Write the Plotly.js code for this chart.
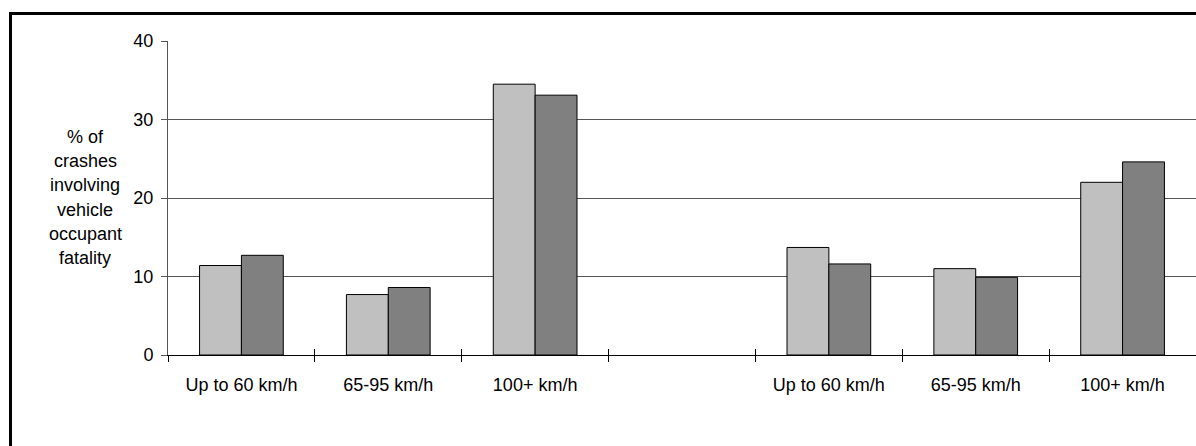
<!DOCTYPE html>
<html>
<head>
<meta charset="utf-8">
<script src="https://cdn.plot.ly/plotly-3.0.1.min.js"></script>
<style>
html, body { margin: 0; padding: 0; overflow: hidden; background: #fff; }
</style>
</head>
<body>
<div id="chart"></div>
<script>
const categories = ["Up to 60 km/h", "65-95 km/h", "100+ km/h", "", "Up to 60 km/h", "65-95 km/h", "100+ km/h"];
const seriesLight = [11.4, 7.7, 34.5, null, 13.7, 11.0, 22.0];
const seriesDark  = [12.7, 8.6, 33.1, null, 11.6, 9.9, 24.6];
const yTickVals = [0, 10, 20, 30, 40];
const yTitleLines = ["% of", "crashes", "involving", "vehicle", "occupant", "fatality"];

const idx = categories.map((_, i) => i);
const bounds = categories.concat([""]).map((_, i) => i - 0.5);
const FONT = "Arial, 'Liberation Sans', sans-serif";

const W = 1196, H = 446, ML = 168, MR = 0, MT = 41, MB = 91;
const plotH = H - MT - MB, plotW = W - ML - MR;

const traces = [
  { type: "bar", x: idx, y: seriesLight, name: "A",
    marker: { color: "#C0C0C0", line: { color: "#000", width: 1 } }, hoverinfo: "skip" },
  { type: "bar", x: idx, y: seriesDark, name: "B",
    marker: { color: "#808080", line: { color: "#000", width: 1 } }, hoverinfo: "skip" }
];

const xRange = [-0.5, categories.length - 0.5];
const annotations = yTitleLines.map((t, i) => ({
  text: t, showarrow: false, xref: "paper", yref: "paper",
  x: (85 - ML) / plotW, xanchor: "center",
  y: (MT + plotH - (136.7 + 24.3 * i)) / plotH, yanchor: "middle",
  font: { family: FONT, size: 18, color: "#000" }
}));

const layout = {
  width: W, height: H,
  margin: { l: ML, r: MR, t: MT, b: MB, pad: 0 },
  paper_bgcolor: "#fff", plot_bgcolor: "#fff",
  showlegend: false,
  barmode: "group", bargap: 0.43, bargroupgap: 0,
  font: { family: FONT, size: 18, color: "#000" },
  xaxis: {
    range: xRange, tickmode: "array", tickvals: idx, ticktext: categories,
    ticks: "", showgrid: false, zeroline: false,
    showline: true, linecolor: "#000", linewidth: 1,
    ticklabelstandoff: 13, tickfont: { family: FONT, size: 18, color: "#000" },
    fixedrange: true
  },
  xaxis2: {
    overlaying: "x", anchor: "y", range: xRange, tickmode: "array", tickvals: bounds.slice(0, -1),
    ticks: "outside", ticklen: 6, tickcolor: "#000", tickwidth: 1,
    showticklabels: false, showgrid: false, zeroline: false, showline: false
  },
  xaxis3: {
    overlaying: "x", anchor: "y", range: xRange, tickmode: "array", tickvals: bounds.slice(0, -1),
    ticks: "inside", ticklen: 6, tickcolor: "#000", tickwidth: 1,
    showticklabels: false, showgrid: false, zeroline: false, showline: false
  },
  yaxis: {
    range: [0, 40], tickmode: "array", tickvals: yTickVals,
    ticks: "outside", ticklen: 6, tickcolor: "#555", tickwidth: 1,
    showgrid: true, gridcolor: "#555", gridwidth: 1,
    zeroline: false, showline: true, linecolor: "#555", linewidth: 1,
    ticklabelstandoff: 4, tickfont: { family: FONT, size: 18, color: "#000" },
    fixedrange: true
  },
  shapes: [
    { type: "line", xref: "paper", yref: "paper", layer: "above",
      x0: (10.5 - ML) / plotW, x1: (10.5 - ML) / plotW,
      y0: -1, y1: (MT + plotH - 12) / plotH,
      line: { color: "#000", width: 3 } },
    { type: "line", xref: "paper", yref: "paper", layer: "above",
      x0: (9 - ML) / plotW, x1: 1.0,
      y0: (MT + plotH - 13.5) / plotH, y1: (MT + plotH - 13.5) / plotH,
      line: { color: "#000", width: 3 } }
  ],
  annotations: annotations
};

traces.push({ type: "scatter", x: [0], y: [0], xaxis: "x2", yaxis: "y", mode: "markers",
  marker: { opacity: 0 }, hoverinfo: "skip", showlegend: false });
traces.push({ type: "scatter", x: [0], y: [0], xaxis: "x3", yaxis: "y", mode: "markers",
  marker: { opacity: 0 }, hoverinfo: "skip", showlegend: false });

Plotly.newPlot("chart", traces, layout, { displayModeBar: false, staticPlot: true });
</script>
</body>
</html>
